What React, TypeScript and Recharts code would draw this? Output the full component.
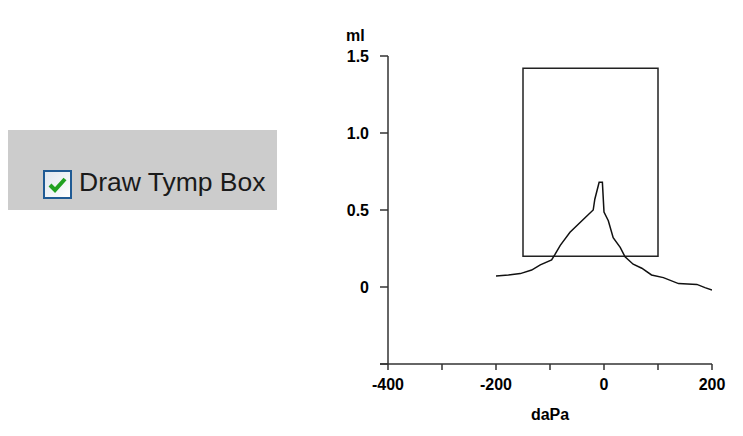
import React from 'react';
import { LineChart, Line, XAxis, YAxis, ReferenceArea } from 'recharts';

// pressure sweep (daPa) and admittance (ml)
const pressure = [-200, -177, -155, -134, -118, -97, -91, -81, -63, -38, -20, -17, -9, -3, 0, 8, 17, 30, 39, 54, 70, 88, 110, 138, 172, 187, 200];
const volume = [0.072, 0.078, 0.087, 0.11, 0.144, 0.176, 0.21, 0.27, 0.355, 0.44, 0.5, 0.57, 0.68, 0.68, 0.486, 0.43, 0.32, 0.257, 0.196, 0.148, 0.122, 0.078, 0.061, 0.022, 0.017, -0.004, -0.02];

const xTicks = [-400, -300, -200, -100, 0, 100, 200];
const xTickLabels = ['-400', '', '-200', '', '0', '', '200'];
const yTicks = [-0.5, 0, 0.5, 1, 1.5];
const yTickLabels = ['', '0', '0.5', '1.0', '1.5'];

// tymp box limits
const boxPressure = [-150, 100];
const boxVolume = [0.2, 1.42];

const data = pressure.map((p, i) => ({ p, v: volume[i] }));

const FONT = '"Liberation Sans", Arial, sans-serif';
const AXIS = '#333';

export default function App() {
  return (
    <div style={{ position: 'absolute', left: 0, top: 0, width: 743, height: 436, background: '#fff' }}>
      <div
        style={{
          position: 'absolute',
          left: 8,
          top: 130,
          width: 269,
          height: 80,
          background: '#cccccc',
        }}
      >
        <svg width={30} height={30} style={{ position: 'absolute', left: 35, top: 40 }}>
          <defs>
            <linearGradient id="cbg" x1="0" y1="0" x2="1" y2="1">
              <stop offset="0" stopColor="#dfe6ee" />
              <stop offset="1" stopColor="#ffffff" />
            </linearGradient>
          </defs>
          <rect x={1} y={1} width={27} height={27} fill="url(#cbg)" stroke="#1f5a94" strokeWidth={2} />
          <path d="M7 15 L12 20 L22 9" fill="none" stroke="#21a121" strokeWidth={4} />
        </svg>
        <div
          style={{
            position: 'absolute',
            left: 71,
            top: 37,
            fontFamily: FONT,
            fontSize: 26.5,
            color: '#1a1a1a',
            lineHeight: '30px',
            whiteSpace: 'nowrap',
          }}
        >
          Draw Tymp Box
        </div>
      </div>
      <LineChart width={743} height={436} data={data} margin={{ top: 56, right: 31, bottom: 42, left: 328 }}>
        <XAxis
          dataKey="p"
          type="number"
          domain={[-400, 200]}
          ticks={xTicks}
          tickFormatter={(v: number) => xTickLabels[xTicks.indexOf(v)] ?? ''}
          height={30}
          tickSize={6}
          tickMargin={9}
          axisLine={{ stroke: AXIS, strokeWidth: 1.5 }}
          tickLine={{ stroke: AXIS, strokeWidth: 1.5 }}
          tick={{ fill: '#000', fontFamily: FONT, fontWeight: 'bold', fontSize: 16 }}
          allowDataOverflow
        />
        <YAxis
          type="number"
          domain={[-0.5, 1.5]}
          ticks={yTicks}
          tickFormatter={(v: number) => yTickLabels[yTicks.indexOf(v)] ?? ''}
          width={60}
          tickSize={8}
          tickMargin={11}
          axisLine={{ stroke: AXIS, strokeWidth: 1.5 }}
          tickLine={{ stroke: AXIS, strokeWidth: 1.5 }}
          tick={{ fill: '#000', fontFamily: FONT, fontWeight: 'bold', fontSize: 16 }}
          allowDataOverflow
        />
        <ReferenceArea
          x1={boxPressure[0]}
          x2={boxPressure[1]}
          y1={boxVolume[0]}
          y2={boxVolume[1]}
          fill="none"
          fillOpacity={0}
          stroke="#222"
          strokeWidth={1.5}
          ifOverflow="visible"
        />
        <Line
          dataKey="v"
          type="linear"
          stroke="#111"
          strokeWidth={1.5}
          dot={false}
          isAnimationActive={false}
        />
      </LineChart>
      <svg
        width={743}
        height={436}
        style={{ position: 'absolute', left: 0, top: 0, pointerEvents: 'none' }}
      >
        <line x1={380} y1={364} x2={388} y2={364} stroke={AXIS} strokeWidth={1.5} />
        <g fontFamily={FONT} fontWeight="bold" fontSize={16} fill="#000">
          <text x={346} y={35} dominantBaseline="central">ml</text>
          <text x={550} y={414} textAnchor="middle" dominantBaseline="central">daPa</text>
        </g>
      </svg>
    </div>
  );
}
